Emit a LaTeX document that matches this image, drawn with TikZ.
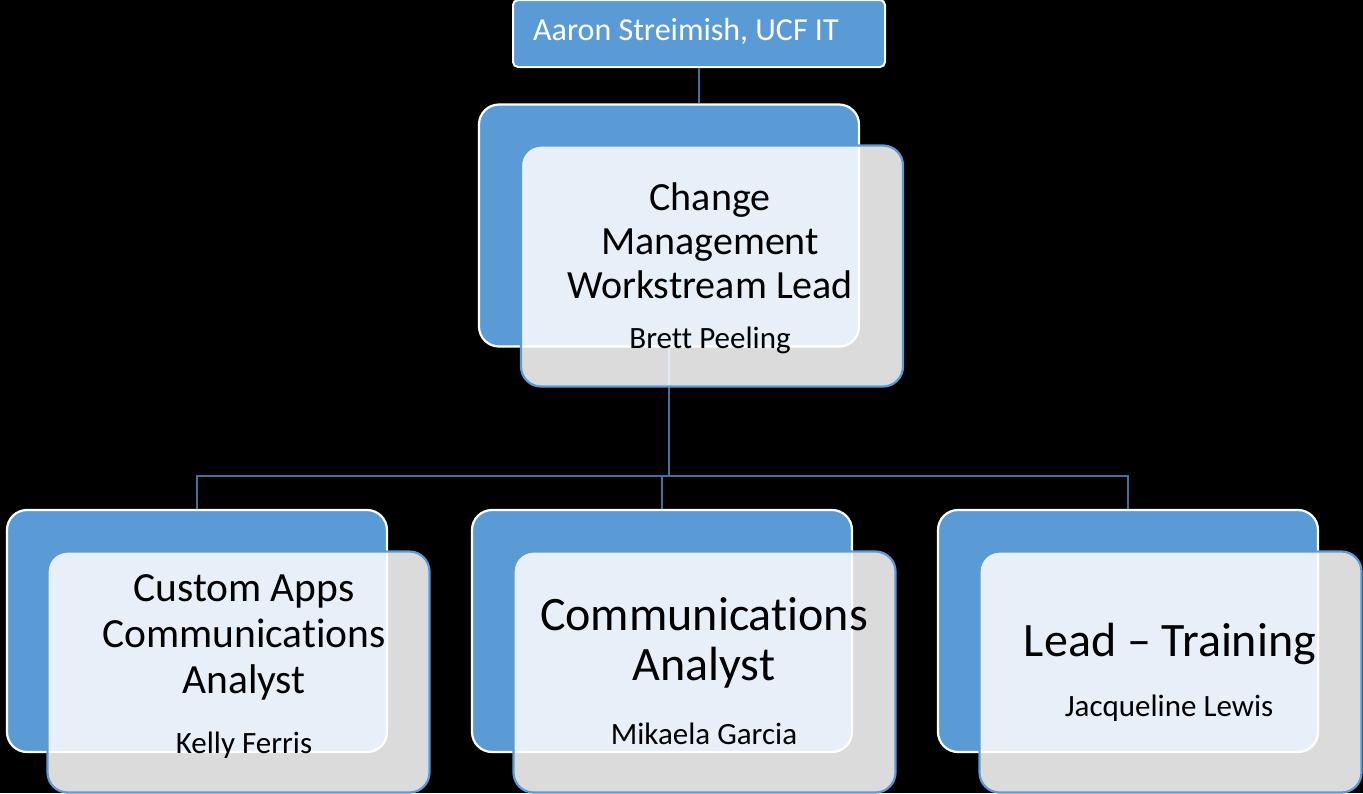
\documentclass[tikz,border=0pt]{standalone}
\usepackage{fontspec}
\setmainfont{Carlito}[Ligatures=NoCommon]

\definecolor{orgBlue}{RGB}{91,155,213}
\definecolor{orgLine}{RGB}{65,113,156}

\begin{document}
\begin{tikzpicture}[x=1pt,y=1pt,yscale=-1,
  backbox/.style={draw=white,line width=2.2,fill=orgBlue,rounded corners=20,inner sep=0,minimum width=380,minimum height=242},
  frontbox/.style={draw=orgBlue,line width=2.2,fill=white,fill opacity=0.86,rounded corners=20,inner sep=0,minimum width=382,minimum height=241},
  topbox/.style={draw=white,line width=2,fill=orgBlue,rounded corners=5,inner sep=0,minimum width=372,minimum height=67},
  link/.style={draw=orgLine,line width=2},
  role/.style={align=center,text=black,inner sep=0},
  who/.style={text=black,inner sep=0,font=\fontsize{31}{36}\selectfont}]
%set diagram area, black page
\fill[black] (0,0) rectangle (1363,793);
\useasboundingbox (0,0) rectangle (1363,793);

%Shape: Rectangle (top)
\node[topbox] (boss) at (699,33.5) {};
% Text Node
\node[anchor=west,text=white,inner sep=0,font=\fontsize{32}{36}\selectfont] (bossTxt) at (533,31) {Aaron Streimish, UCF IT};

%Shape: Rectangle (lead, back)
\node[backbox] (leadB) at (669,225.5) {};

%Shape: Rectangle (children, back)
\node[backbox] (appsB) at (197,631) {};
\node[backbox] (commB) at (662,631) {};
\node[backbox] (trainB) at (1128,631) {};

%Straight Lines
\coordinate (split) at (669,476);
\draw[link] (boss.south) -- (boss.south |- leadB.north);
\draw[link] (leadB.south) -- (split) -| (appsB.north);
\draw[link] (split) -| (commB.north);
\draw[link] (split) -| (trainB.north);

%Shape: Rectangle (front)
\node[frontbox] (leadF) at (712,266) {};
\node[frontbox] (appsF) at (238.5,672) {};
\node[frontbox] (commF) at (704.5,672) {};
\node[frontbox] (trainF) at (1170.5,672) {};

% Text Node
\node[role,font=\fontsize{40}{44}\selectfont] (leadTxt) at (710,241) {Change\\Management\\Workstream Lead};
% Text Node
\node[who] (leadWho) at (710,340) {Brett Peeling};
% Text Node
\node[role,font=\fontsize{41.5}{46}\selectfont] (appsTxt) at (244,637) {Custom Apps\\Communications\\Analyst};
% Text Node
\node[who] (appsWho) at (244,745) {Kelly Ferris};
% Text Node
\node[role,font=\fontsize{48}{50}\selectfont] (commTxt) at (704,643) {Communications\\Analyst};
% Text Node
\node[who] (commWho) at (704,734) {Mikaela Garcia};
% Text Node
\node[role,font=\fontsize{48}{50}\selectfont] (trainTxt) at (1170,644) {Lead -- Training};
% Text Node
\node[who] (trainWho) at (1169,708) {Jacqueline Lewis};

\end{tikzpicture}
\end{document}
